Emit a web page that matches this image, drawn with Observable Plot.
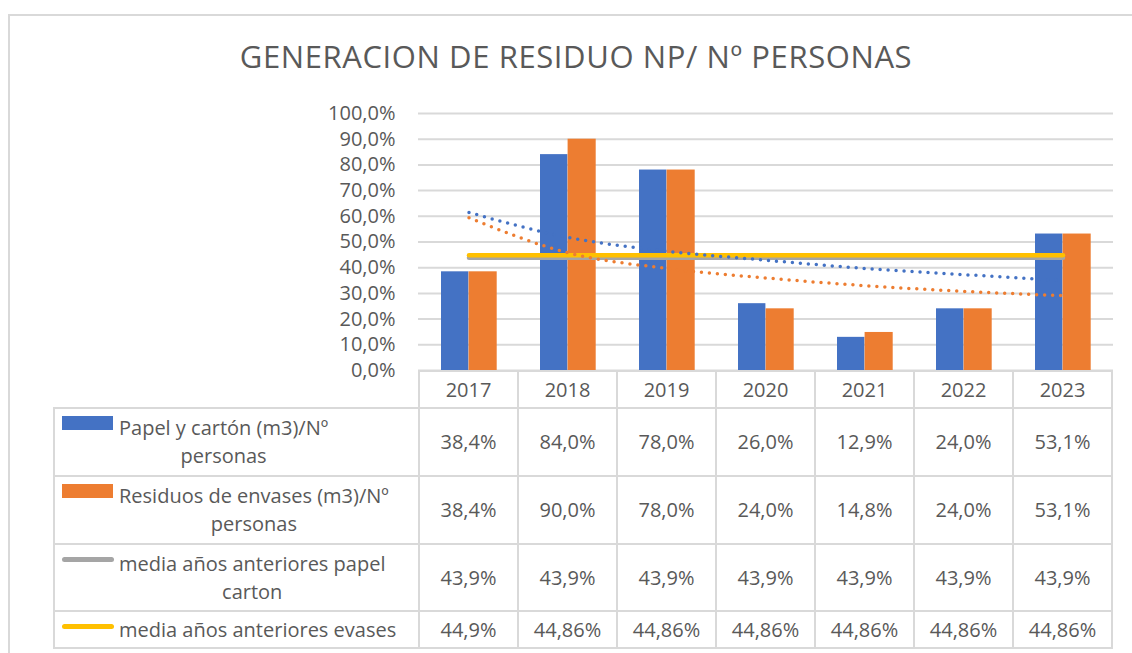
<!DOCTYPE html>
<html>
<head>
<meta charset="utf-8">
<script src="https://cdn.jsdelivr.net/npm/d3@7"></script>
<script src="https://cdn.jsdelivr.net/npm/@observablehq/plot@0.6"></script>
<style>
  html, body { margin: 0; padding: 0; background: #fff; }
  body { width: 1132px; height: 653px; overflow: hidden; position: relative;
         font-family: "Open Sans", sans-serif; color: #595959; }
  #frame { position: absolute; left: 8px; top: 14px; width: 1140px; height: 660px;
           border: 2px solid #d9d9d9; box-sizing: border-box; }
  #title { position: absolute; left: 0; top: 41px; width: 1152px; text-align: center;
           font-size: 31px; letter-spacing: 0.6px; line-height: 1; white-space: nowrap; }
  #chart { position: absolute; left: 0; top: 0; }
  .cell { position: absolute; box-sizing: border-box; border: 2px solid #d9d9d9;
          display: flex; align-items: center; justify-content: center;
          font-size: 20px; line-height: 28px; white-space: nowrap; }
  .label { justify-content: flex-start; padding-left: 7px; align-items: center; }
  .keybox { width: 52px; height: 28px; display: flex; align-items: center; flex: none; align-self: flex-start; }
  .labtext { white-space: pre-line; text-align: center; margin-left: 5px; }
</style>
</head>
<body>
<div id="frame"></div>
<div id="title"></div>
<div id="chart"></div>
<div id="table"></div>
<script>
// ---- data ----
const title = "GENERACION DE RESIDUO NP/ Nº PERSONAS";
const years = ["2017", "2018", "2019", "2020", "2021", "2022", "2023"];
const papel = [38.4, 84.0, 78.0, 26.0, 12.9, 24.0, 53.1];
const envases = [38.4, 90.0, 78.0, 24.0, 14.8, 24.0, 53.1];
const mediaPapel = [43.9, 43.9, 43.9, 43.9, 43.9, 43.9, 43.9];
const mediaEnvases = [44.86, 44.86, 44.86, 44.86, 44.86, 44.86, 44.86];
const mediaEnvasesText = ["44,9%", "44,86%", "44,86%", "44,86%", "44,86%", "44,86%", "44,86%"];
// dotted trend lines at each year
const papelTrend = [61.5, 51.8, 46.4, 42.9, 39.7, 37.3, 35.0];
const envasesTrend = [59.4, 45.8, 39.7, 36.0, 33.0, 30.8, 29.1];
const yTicks = [0, 10, 20, 30, 40, 50, 60, 70, 80, 90, 100];
const seriesNames = [
  "Papel y cartón (m3)/Nº\npersonas",
  "Residuos de envases (m3)/Nº\npersonas",
  "media años anteriores papel\ncarton",
  "media años anteriores evases"
];
const colors = ["#4472c4", "#ed7d31", "#a5a5a5", "#ffc000"];

// ---- build ----
document.getElementById("title").textContent = title;

const rows = years.map((y, i) => ({
  year: y, papel: papel[i], envases: envases[i],
  mediaPapel: mediaPapel[i], mediaEnvases: mediaEnvases[i],
  papelTrend: papelTrend[i], envasesTrend: envasesTrend[i]
}));

const pct = d => d.toFixed(1).replace(".", ",") + "%";

const chart = Plot.plot({
  width: 1132,
  height: 392,
  marginLeft: 418,
  marginRight: 19,
  marginTop: 113,
  marginBottom: 22,
  x: { domain: years, padding: 0, axis: null },
  y: { domain: [0, 100], axis: null },
  style: { fontFamily: '"Open Sans", sans-serif', fontSize: "20px", color: "#595959", background: "transparent" },
  marks: [
    Plot.gridY(yTicks, { stroke: "#d9d9d9", strokeOpacity: 1, strokeWidth: 2 }),
    Plot.axisY(yTicks, { tickSize: 0, tickPadding: 23, tickFormat: pct, label: null, fill: "#595959" }),
    Plot.barY(rows, { x: "year", y: "papel", fill: colors[0], insetLeft: 22, insetRight: 49.6 }),
    Plot.barY(rows, { x: "year", y: "envases", fill: colors[1], insetLeft: 49.6, insetRight: 21.3 }),
    Plot.lineY(rows, { x: "year", y: "mediaPapel", stroke: colors[2], strokeWidth: 4.5, strokeLinecap: "round" }),
    Plot.lineY(rows, { x: "year", y: "mediaEnvases", stroke: colors[3], strokeWidth: 4.5, strokeLinecap: "round" }),
    Plot.lineY(rows, { x: "year", y: "papelTrend", stroke: colors[0], strokeWidth: 3.5, strokeDasharray: "0 8", strokeLinecap: "round", curve: "monotone-x" }),
    Plot.lineY(rows, { x: "year", y: "envasesTrend", stroke: colors[1], strokeWidth: 3.5, strokeDasharray: "0 8", strokeLinecap: "round", curve: "monotone-x" })
  ]
});
document.getElementById("chart").appendChild(chart);

// ---- data table aligned with the x scale ----
const xs = chart.scale("x");
const bw = xs.bandwidth;
const colStart = years.map(y => xs.apply(y));
const tableLeft = 54;
const rowEdges = [371, 408, 476, 544, 611, 648];
const table = document.getElementById("table");

function cell(x0, x1, y0, y1, cls) {
  const d = document.createElement("div");
  d.className = "cell" + (cls ? " " + cls : "");
  d.style.left = (x0 - 1) + "px";
  d.style.top = (y0 - 1) + "px";
  d.style.width = (x1 - x0 + 2) + "px";
  d.style.height = (y1 - y0 + 2) + "px";
  table.appendChild(d);
  return d;
}

// header row: years
years.forEach((y, i) => {
  const c = cell(colStart[i], colStart[i] + bw, rowEdges[0], rowEdges[1]);
  c.textContent = y;
});

const rowValues = [
  papel.map(pct),
  envases.map(pct),
  mediaPapel.map(pct),
  mediaEnvasesText
];

rowValues.forEach((vals, r) => {
  const y0 = rowEdges[r + 1], y1 = rowEdges[r + 2];
  const lab = cell(tableLeft, colStart[0], y0, y1, "label");
  const kb = document.createElement("div");
  kb.className = "keybox";
  const key = document.createElement("div");
  if (r < 2) {
    key.style.cssText = `width:51px;height:14px;background:${colors[r]};`;
  } else {
    key.style.cssText = `width:56px;height:5px;border-radius:3px;background:${colors[r]};`;
  }
  kb.appendChild(key);
  lab.appendChild(kb);
  const t = document.createElement("div");
  t.className = "labtext";
  t.textContent = seriesNames[r];
  lab.appendChild(t);
  vals.forEach((v, i) => {
    const c = cell(colStart[i], colStart[i] + bw, y0, y1);
    c.textContent = v;
  });
});
</script>
</body>
</html>
